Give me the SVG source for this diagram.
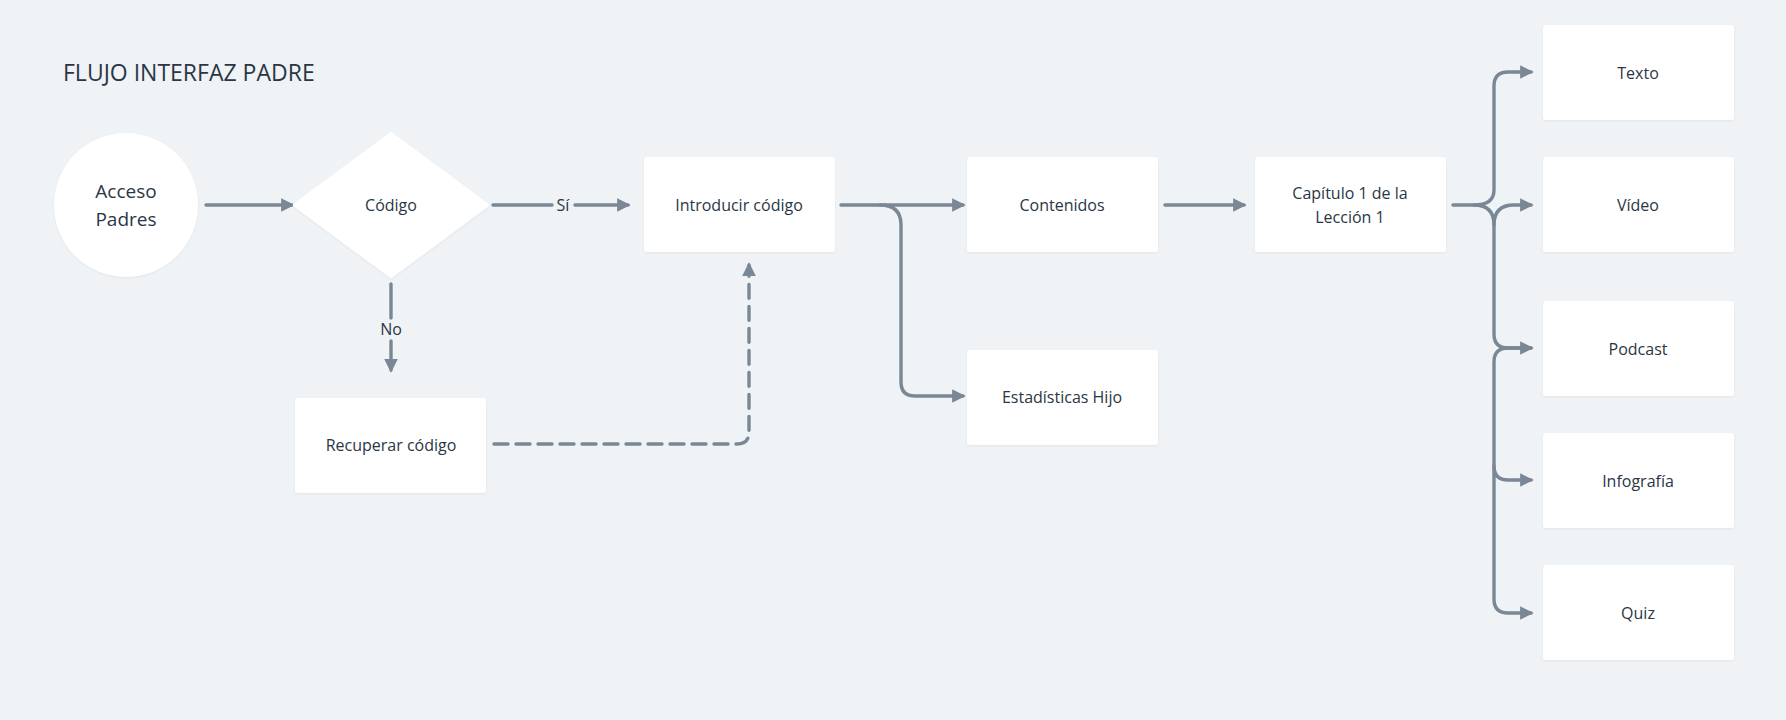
<svg xmlns="http://www.w3.org/2000/svg" width="1786" height="720" viewBox="0 0 1786 720">
<style>
.n{fill:#fff;filter:url(#sh)}
.t{font-family:"Open Sans","Liberation Sans",sans-serif;font-size:16px;fill:#2b3645;text-anchor:middle;dominant-baseline:middle}
.c{fill:none;stroke:#7a8794;stroke-width:3.4;stroke-linecap:round;stroke-linejoin:round}
.l{font-family:"Open Sans","Liberation Sans",sans-serif;font-size:16px;fill:#2b3645;text-anchor:middle;dominant-baseline:middle}
</style>
<defs>
<marker id="a" viewBox="0 0 10 10" refX="8" refY="5" markerWidth="4" markerHeight="4" orient="auto"><path d="M0,0L10,5L0,10z" fill="#7a8794"/></marker>
<filter id="sh" x="-10%" y="-10%" width="120%" height="130%"><feDropShadow dx="0" dy="1" stdDeviation="1" flood-color="#000" flood-opacity="0.06"/></filter>
</defs>
<rect width="1786" height="720" fill="#eff3f6"/>
<text x="63" y="75" font-family="Open Sans, Liberation Sans, sans-serif" font-size="23" font-weight="500" fill="#2b3645" dominant-baseline="middle">FLUJO INTERFAZ PADRE</text>
<g id="connectors">
<path class="c" d="M206,205H292" marker-end="url(#a)"/>
<path class="c" d="M493,205H552M575,205H628" marker-end="url(#a)"/>
<path class="c" d="M391,284V318M391,341V370" marker-end="url(#a)"/>
<path class="c" d="M494,444H737Q749,444 749,432V265" stroke-dasharray="14,8" marker-end="url(#a)"/>
<path class="c" d="M841,205H963" marker-end="url(#a)"/>
<path class="c" d="M880,205Q901,205 901,225V382Q901,396 915,396H963" marker-end="url(#a)"/>
<path class="c" d="M1165,205H1244" marker-end="url(#a)"/>
<path class="c" d="M1453,205H1474Q1494,205 1494,190V86Q1494,72 1508,72H1531" marker-end="url(#a)"/>
<path class="c" d="M1474,205Q1494,205 1494,225V334Q1494,348 1508,348H1531" marker-end="url(#a)"/>
<path class="c" d="M1494,225Q1494,205 1514,205H1531" marker-end="url(#a)"/>
<path class="c" d="M1531,348H1508Q1494,348 1494,362V599Q1494,613 1508,613H1531" marker-end="url(#a)"/>
<path class="c" d="M1494,466Q1494,480 1508,480H1531" marker-end="url(#a)"/>
</g>
<text class="l" x="563" y="207">Sí</text>
<text class="l" x="391" y="331">No</text>
<g id="acceso"><circle class="n" cx="126" cy="205" r="72"/><text class="t" style="font-size:19px" x="126" y="193">Acceso</text><text class="t" style="font-size:19px" x="126" y="221">Padres</text></g>
<g id="codigo"><path class="n" d="M391,134L487,205L391,276L295,205z" stroke="#fff" stroke-width="4" stroke-linejoin="round"/><text class="t" x="391" y="207">Código</text></g>
<g id="introducir"><rect class="n" x="644" y="157" width="191" height="95" rx="3"/><text class="t" x="739" y="207">Introducir código</text></g>
<g id="recuperar"><rect class="n" x="295" y="398" width="191" height="95" rx="3"/><text class="t" x="391" y="447">Recuperar código</text></g>
<g id="contenidos"><rect class="n" x="967" y="157" width="191" height="95" rx="3"/><text class="t" x="1062" y="207">Contenidos</text></g>
<g id="estadisticas"><rect class="n" x="967" y="350" width="191" height="95" rx="3"/><text class="t" x="1062" y="399">Estadísticas Hijo</text></g>
<g id="capitulo"><rect class="n" x="1255" y="157" width="191" height="95" rx="3"/><text class="t" x="1350" y="195">Capítulo 1 de la</text><text class="t" x="1350" y="219">Lección 1</text></g>
<g id="texto"><rect class="n" x="1543" y="25" width="191" height="95" rx="3"/><text class="t" x="1638" y="75">Texto</text></g>
<g id="video"><rect class="n" x="1543" y="157" width="191" height="95" rx="3"/><text class="t" x="1638" y="207">Vídeo</text></g>
<g id="podcast"><rect class="n" x="1543" y="301" width="191" height="95" rx="3"/><text class="t" x="1638" y="351">Podcast</text></g>
<g id="infografia"><rect class="n" x="1543" y="433" width="191" height="95" rx="3"/><text class="t" x="1638" y="483">Infografía</text></g>
<g id="quiz"><rect class="n" x="1543" y="565" width="191" height="95" rx="3"/><text class="t" x="1638" y="615">Quiz</text></g>
</svg>
